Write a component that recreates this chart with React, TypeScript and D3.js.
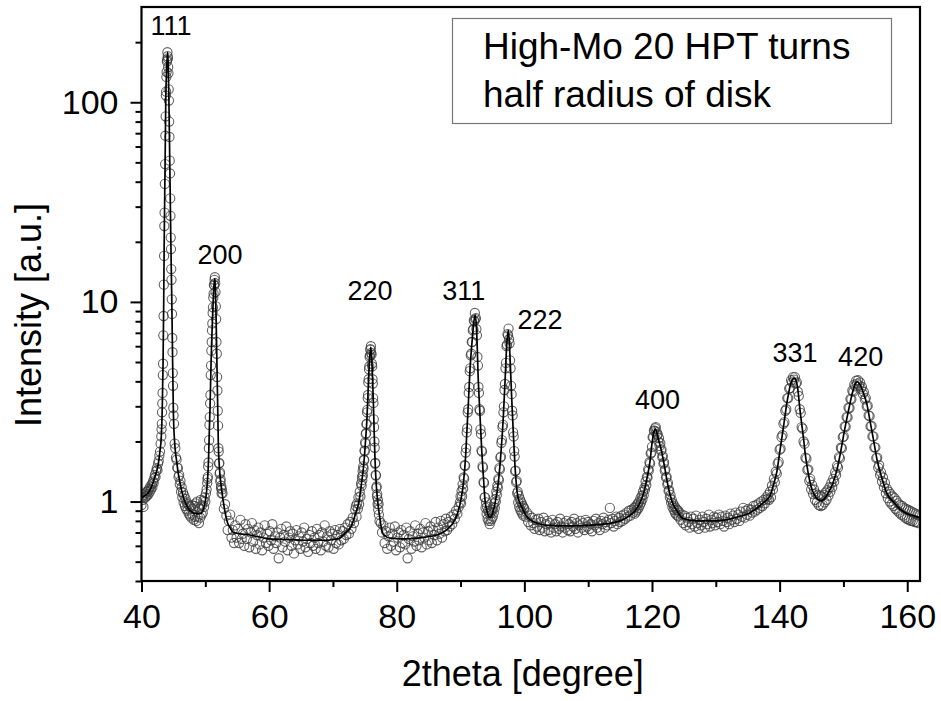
import React, { useEffect, useRef } from 'react';
import * as d3 from 'd3';

// fitted profile: [2theta, intensity]
const fitCurve: [number, number][] = [
  [40.0, 1.04], [40.5, 1.07], [41.0, 1.1], [41.5, 1.17], [42.0, 1.3], [42.4, 1.43], [42.64, 1.55],
  [42.9, 1.8], [43.1, 2.1], [43.25, 2.9], [43.38, 5], [43.48, 10], [43.57, 22], [43.7, 50],
  [43.8, 100], [43.95, 150], [44.08, 178], [44.2, 150], [44.3, 100], [44.45, 45], [44.6, 20],
  [44.75, 10], [44.9, 4.5], [45.0, 2.75], [45.25, 1.87], [45.5, 1.6], [45.77, 1.38], [46.2, 1.17],
  [46.55, 1.05], [47.1, 0.95], [47.6, 0.9], [48.1, 0.88], [48.6, 0.87], [49.2, 0.87], [49.6, 0.9],
  [50.0, 1.0], [50.3, 1.22], [50.5, 1.6], [50.63, 2.27], [50.74, 2.97], [50.9, 4.9], [51.0, 6.4],
  [51.2, 9.5], [51.35, 12.0], [51.52, 13.1], [51.62, 10.5], [51.7, 8.0], [51.78, 5.8], [51.94, 3.0],
  [52.04, 1.95], [52.2, 1.5], [52.57, 1.14], [53.0, 0.92], [53.5, 0.78], [53.87, 0.74], [54.4, 0.7],
  [55.4, 0.69], [57, 0.68], [60, 0.65], [63, 0.645], [66, 0.64], [69, 0.64], [71, 0.655], [72, 0.7],
  [72.5, 0.72], [73.0, 0.77], [73.5, 0.86], [74.1, 1.01], [74.5, 1.25], [74.8, 1.5], [75.1, 2.0],
  [75.3, 2.5], [75.45, 3.2], [75.6, 4.2], [75.75, 5.2], [75.93, 5.93], [76.08, 5.2], [76.2, 4.2],
  [76.33, 3.2], [76.45, 2.3], [76.6, 1.6], [76.8, 1.2], [77.0, 1.01], [77.3, 0.85], [77.65, 0.72],
  [78.0, 0.68], [79, 0.655], [81, 0.65], [84, 0.66], [86.8, 0.69], [88, 0.73], [88.8, 0.78],
  [89.4, 0.85], [90.0, 1.0], [90.44, 1.23], [90.8, 1.7], [90.97, 2.18], [91.2, 3.0], [91.5, 4.71],
  [91.8, 6.3], [92.0, 7.5], [92.27, 8.6], [92.5, 7.4], [92.8, 3.89], [93.0, 2.9], [93.32, 1.8],
  [93.6, 1.3], [93.84, 1.01], [94.2, 0.88], [94.6, 0.83], [95.0, 0.87], [95.4, 0.98], [95.9, 1.23],
  [96.3, 1.7], [96.7, 2.65], [97.0, 4.2], [97.25, 6.2], [97.5, 7.2], [97.75, 5.3], [98.03, 3.21],
  [98.3, 2.1], [98.54, 1.49], [99.0, 1.05], [99.6, 0.94], [100.0, 0.88], [100.5, 0.83], [102.5, 0.77],
  [104, 0.76], [107, 0.755], [110, 0.76], [113, 0.775], [115, 0.8], [116.5, 0.85], [117.35, 0.9],
  [118.0, 0.97], [118.65, 1.09], [119.2, 1.3], [119.7, 1.6], [120.0, 1.95], [120.2, 2.15],
  [120.35, 2.26], [120.5, 2.31], [120.65, 2.28], [120.8, 2.2], [121.0, 2.05], [121.3, 1.9],
  [121.8, 1.6], [122.3, 1.3], [122.8, 1.09], [123.3, 0.97], [123.9, 0.9], [124.5, 0.84], [125, 0.82],
  [127, 0.8], [130, 0.8], [133, 0.83], [135.4, 0.88], [136.5, 0.93], [137.5, 0.99], [138.0, 1.02],
  [138.5, 1.07], [139.0, 1.2], [139.6, 1.43], [140.0, 1.75], [140.6, 2.36], [141.2, 3.2],
  [141.8, 3.95], [142.3, 4.15], [142.8, 3.75], [143.2, 2.86], [143.8, 2.0], [144.0, 1.75],
  [144.3, 1.5], [144.9, 1.2], [145.5, 1.07], [146.1, 1.02], [146.6, 1.01], [147.2, 1.05],
  [147.8, 1.13], [148.4, 1.25], [149.0, 1.45], [149.5, 1.73], [150.2, 2.3], [150.8, 2.86],
  [151.4, 3.5], [151.9, 3.9], [152.2, 3.98], [152.6, 3.85], [153.2, 3.45], [153.7, 3.05],
  [154.2, 2.5], [154.7, 2.05], [155.3, 1.6], [156.0, 1.32], [156.8, 1.1], [157.8, 1.0],
  [158.8, 0.92], [160, 0.87], [161, 0.85], [162, 0.83],
];

// measured intensities, evenly stepped scans
const obsLow = [ // 40.0 .. 43.1, step 0.1
  0.96, 1.05, 1.02, 0.94, 1.08, 1.04, 1.1, 1.06, 1.12, 1.07, 1.13, 1.09, 1.16, 1.12, 1.19, 1.15,
  1.22, 1.18, 1.26, 1.24, 1.31, 1.36, 1.33, 1.42, 1.47, 1.44, 1.55, 1.6, 1.7, 1.78, 1.95, 2.12,
];
const obs111 = [ // 43.14 .. 45.02, step 0.04
  2.3, 2.45, 2.8, 3.1, 3.5, 4.3, 4.9, 6.8, 8.5, 12.2, 17, 24, 28, 39, 49, 68, 85, 108, 113, 134,
  142, 160, 163, 178, 170, 166, 150, 140, 116, 102, 80, 67, 51, 44, 33, 27, 21, 18.4, 14.6, 12.9,
  10.3, 8.7, 6.6, 5.6, 4.4, 3.8, 2.95, 2.7,
];
const obsValley1 = [ // 45.1 .. 50.3, step 0.1
  2.45, 1.95, 1.85, 1.66, 1.62, 1.48, 1.47, 1.33, 1.36, 1.22, 1.27, 1.12, 1.18, 1.05, 1.11, 0.99,
  1.07, 0.95, 1.03, 0.92, 0.99, 0.9, 0.97, 0.87, 0.95, 0.85, 0.94, 0.83, 0.96, 0.86, 0.92, 0.81,
  0.95, 0.84, 0.98, 0.8, 1.0, 0.84, 0.94, 0.78, 0.92, 0.83, 1.02, 0.86, 0.96, 0.88, 1.01, 0.94,
  1.05, 1.0, 1.1, 1.15, 1.24,
];
const obs200 = [ // 50.35 .. 52.60, step 0.05
  1.3, 1.33, 1.5, 1.57, 1.85, 2.03, 2.42, 2.65, 3.1, 3.42, 4.3, 4.8, 5.7, 6.3, 7.2, 7.8, 8.8, 9.4,
  10.5, 11.0, 12.2, 12.1, 12.9, 13.3, 12.4, 11.2, 9.5, 8.2, 6.3, 5.5, 4.2, 3.6, 2.85, 2.4, 1.85,
  1.78, 1.55, 1.56, 1.38, 1.4, 1.26, 1.29, 1.17, 1.2, 1.1, 1.15,
];
const obsBg1 = [ // 52.7 .. 73.5, step 0.2
  1.1, 0.92, 0.97, 0.85, 0.72, 0.8, 0.86, 0.66, 0.72, 0.62, 0.76, 0.66,
  0.73, 0.62, 0.81, 0.65, 0.69, 0.6, 0.77, 0.65, 0.73, 0.59,
  0.7, 0.78, 0.63, 0.72, 0.58, 0.68, 0.74, 0.61, 0.7, 0.57,
  0.66, 0.76, 0.62, 0.69, 0.6, 0.71, 0.64, 0.77, 0.58, 0.67,
  0.62, 0.7, 0.52, 0.66, 0.73, 0.59, 0.68, 0.63, 0.75, 0.57,
  0.66, 0.71, 0.6, 0.69, 0.55, 0.64, 0.72, 0.61, 0.67, 0.58,
  0.7, 0.63, 0.74, 0.59, 0.65, 0.56, 0.68, 0.62, 0.71, 0.6,
  0.66, 0.58, 0.73, 0.62, 0.68, 0.57, 0.7, 0.63, 0.76, 0.6,
  0.67, 0.59, 0.71, 0.64, 0.69, 0.58, 0.72, 0.62, 0.68, 0.61,
  0.73, 0.64, 0.71, 0.65, 0.74, 0.68, 0.77, 0.69, 0.79, 0.73,
  0.83, 0.78, 0.91,
];
const obs220Base = [ // 73.6 .. 74.5, step 0.1
  0.95, 0.84, 0.98, 0.92, 1.05, 0.97, 1.12, 1.06, 1.23, 1.2,
];
const obs220 = [ // 74.55 .. 77.20, step 0.05
  1.33, 1.28, 1.42, 1.35, 1.5, 1.46, 1.62, 1.61, 1.8, 1.79, 1.98, 1.95, 2.18, 2.2, 2.44, 2.45,
  2.8, 2.88, 3.3, 3.42, 3.95, 4.1, 4.6, 4.75, 5.3, 5.4, 5.8, 5.75, 6.0, 5.55, 5.45, 4.9, 4.75,
  4.1, 3.9, 3.3, 3.12, 2.58, 2.36, 2.0, 1.86, 1.55, 1.56, 1.36, 1.35, 1.17, 1.19, 1.06, 1.09,
  0.97, 1.02, 0.91, 0.97, 0.86,
];
const obsBg2 = [ // 77.3 .. 89.9, step 0.2
  0.8, 0.78, 0.7, 0.76, 0.62, 0.71, 0.58, 0.67, 0.74, 0.6,
  0.69, 0.63, 0.75, 0.57, 0.66, 0.7, 0.59, 0.72, 0.62, 0.68,
  0.61, 0.74, 0.52, 0.65, 0.71, 0.58, 0.67, 0.63, 0.76, 0.6,
  0.69, 0.64, 0.73, 0.59, 0.7, 0.66, 0.78, 0.61, 0.71, 0.64,
  0.75, 0.62, 0.72, 0.68, 0.79, 0.64, 0.74, 0.69, 0.8, 0.66,
  0.77, 0.71, 0.82, 0.72, 0.79, 0.75, 0.84, 0.77, 0.86, 0.82,
  0.9, 0.87, 0.94, 0.99,
];
const obs311_222 = [ // 90.00 .. 99.92, step 0.08
  1.06, 0.98, 1.13, 1.06, 1.22, 1.16, 1.32, 1.3, 1.52, 1.51, 1.76, 1.85, 2.22, 2.33, 2.8, 2.9,
  3.5, 3.75, 4.5, 4.65, 5.4, 5.5, 6.3, 6.3, 7.2, 7.3, 8.1, 8.0, 8.8, 8.2, 8.3, 7.3, 6.8, 5.3,
  4.8, 3.75, 3.5, 2.9, 2.85, 2.3, 2.18, 1.8, 1.78, 1.5, 1.48, 1.25, 1.24, 1.05, 1.05, 0.93,
  0.99, 0.87, 0.94, 0.82, 0.9, 0.8, 0.88, 0.77, 0.87, 0.8, 0.89, 0.82, 0.91, 0.84, 0.94, 0.88,
  0.98, 0.93, 1.03, 1.0, 1.12, 1.08, 1.2, 1.17, 1.3, 1.28, 1.47, 1.45, 1.66, 1.68, 1.97, 2.03,
  2.36, 2.42, 2.8, 3.0, 3.62, 3.88, 4.65, 4.95, 6.0, 6.1, 6.9, 6.8, 7.35, 6.5, 6.2, 5.1, 4.65,
  3.8, 3.45, 2.85, 2.7, 2.22, 2.12, 1.79, 1.68, 1.42, 1.43, 1.25, 1.27, 1.1, 1.12, 0.99, 1.07,
  0.94, 1.03, 0.91, 1.0, 0.89, 0.98, 0.87, 0.95, 0.85, 0.93,
];
const obsBg3 = [ // 100.0 .. 117.2, step 0.2
  0.92, 0.84, 0.88, 0.79, 0.85, 0.76, 0.83, 0.78, 0.73, 0.81, 0.75, 0.82, 0.72, 0.79, 0.74, 0.83,
  0.71, 0.77, 0.8, 0.72, 0.78, 0.7, 0.81, 0.74, 0.77, 0.71, 0.79, 0.73, 0.82, 0.75, 0.7, 0.78,
  0.74, 0.8, 0.72, 0.77, 0.71, 0.79, 0.75, 0.82, 0.73, 0.78, 0.7, 0.76, 0.8, 0.74, 0.78, 0.72,
  0.81, 0.75, 0.79, 0.73, 0.77, 0.71, 0.8, 0.76, 0.82, 0.74, 0.78, 0.72, 0.8, 0.77, 0.83, 0.74,
  0.79, 0.76, 0.81, 0.93, 0.78, 0.82, 0.75, 0.8, 0.84, 0.77, 0.83, 0.79, 0.85, 0.8, 0.86, 0.82,
  0.88, 0.84, 0.9, 0.85, 0.91, 0.88, 0.93,
];
const obs400 = [ // 117.3 .. 124.2, step 0.1
  0.87, 0.94, 0.89, 0.96, 0.91, 0.98, 0.93, 1.0, 0.96, 1.04, 0.99, 1.07, 1.03, 1.12, 1.08, 1.17,
  1.15, 1.26, 1.21, 1.33, 1.32, 1.45, 1.43, 1.57, 1.55, 1.74, 1.76, 1.88, 2.1, 2.1, 2.27, 2.25,
  2.33, 2.36, 2.24, 2.16, 2.17, 2.0, 2.08, 1.9, 1.96, 1.8, 1.82, 1.67, 1.69, 1.55, 1.57, 1.43,
  1.45, 1.32, 1.33, 1.22, 1.24, 1.13, 1.14, 1.05, 1.08, 0.99, 1.02, 0.94, 0.98, 0.91, 0.95, 0.88,
  0.93, 0.86, 0.91, 0.85, 0.9, 0.84,
];
const obsBg4 = [ // 124.3 .. 138.1, step 0.2
  0.88, 0.81, 0.86, 0.78, 0.85, 0.76, 0.83, 0.79, 0.74, 0.84, 0.77, 0.82, 0.75, 0.85, 0.78, 0.73,
  0.81, 0.76, 0.84, 0.79, 0.74, 0.82, 0.77, 0.86, 0.75, 0.81, 0.78, 0.84, 0.76, 0.83, 0.79, 0.86,
  0.77, 0.84, 0.8, 0.75, 0.85, 0.79, 0.83, 0.77, 0.87, 0.81, 0.85, 0.79, 0.88, 0.82, 0.86, 0.8,
  0.89, 0.84, 0.93, 0.83, 0.9, 0.86, 0.92, 0.85, 0.91, 0.88, 0.95, 0.89, 0.96, 0.91, 0.98, 0.93,
  1.0, 0.95, 1.02, 0.98, 1.05, 1.03,
];
const obsHigh = [ // 138.2 .. 161.9, step 0.15
  1.08, 1.02, 1.12, 1.05, 1.2, 1.15, 1.3, 1.25, 1.41, 1.38, 1.55, 1.58, 1.82, 1.84, 2.1, 2.15,
  2.45, 2.5, 2.85, 2.9, 3.3, 3.3, 3.68, 3.7, 4.05, 3.95, 4.2, 4.08, 4.2, 3.9, 3.95, 3.55, 3.38,
  2.9, 2.78, 2.36, 2.32, 2.0, 1.95, 1.66, 1.64, 1.44, 1.45, 1.27, 1.3, 1.15, 1.21, 1.09, 1.15,
  1.02, 1.1, 0.99, 1.08, 0.96, 1.07, 0.95, 1.06, 0.96, 1.08, 0.99, 1.11, 1.02, 1.14, 1.07, 1.18,
  1.12, 1.24, 1.18, 1.3, 1.26, 1.4, 1.36, 1.51, 1.48, 1.67, 1.65, 1.86, 1.85, 2.1, 2.12, 2.38,
  2.37, 2.65, 2.64, 2.95, 2.94, 3.27, 3.25, 3.6, 3.55, 3.85, 3.78, 4.03, 3.9, 4.05, 3.82, 3.95,
  3.68, 3.75, 3.46, 3.54, 3.25, 3.3, 3.0, 3.02, 2.7, 2.68, 2.38, 2.39, 2.12, 2.12, 1.87, 1.87,
  1.65, 1.66, 1.48, 1.52, 1.36, 1.4, 1.26, 1.32, 1.18, 1.24, 1.1, 1.16, 1.04, 1.12, 1.0, 1.09,
  0.97, 1.06, 0.95, 1.04, 0.92, 1.01, 0.9, 0.98, 0.88, 0.96, 0.86, 0.95, 0.85, 0.93, 0.83, 0.92,
  0.82, 0.91, 0.81, 0.9, 0.8, 0.89, 0.8, 0.88, 0.79, 0.87, 0.79, 0.86, 0.78, 0.85,
];

const obsSegments = [
  { start: 40.0, step: 0.1, values: obsLow },
  { start: 43.14, step: 0.04, values: obs111 },
  { start: 45.1, step: 0.1, values: obsValley1 },
  { start: 50.35, step: 0.05, values: obs200 },
  { start: 52.7, step: 0.2, values: obsBg1 },
  { start: 73.6, step: 0.1, values: obs220Base },
  { start: 74.55, step: 0.05, values: obs220 },
  { start: 77.3, step: 0.2, values: obsBg2 },
  { start: 90.0, step: 0.08, values: obs311_222 },
  { start: 100.0, step: 0.2, values: obsBg3 },
  { start: 117.3, step: 0.1, values: obs400 },
  { start: 124.3, step: 0.2, values: obsBg4 },
  { start: 138.2, step: 0.15, values: obsHigh },
];

// reflection labels: text, 2theta of centre, intensity at baseline
const peakLabels = [
  { text: '111', theta: 44.62, at: 217 },
  { text: '200', theta: 52.3, at: 15.4 },
  { text: '220', theta: 75.82, at: 10.2 },
  { text: '311', theta: 90.52, at: 10.2 },
  { text: '222', theta: 102.46, at: 7.28 },
  { text: '400', theta: 120.88, at: 2.91 },
  { text: '331', theta: 142.43, at: 4.98 },
  { text: '420', theta: 152.7, at: 4.8 },
];

const xMajor = [40, 60, 80, 100, 120, 140, 160];
const xMinor = [50, 70, 90, 110, 130, 150];
const yMajor = [1, 10, 100];
const yMinor = [0.4, 0.5, 0.6, 0.7, 0.8, 0.9, 2, 3, 4, 5, 6, 7, 8, 9, 20, 30, 40, 50, 60, 70, 80, 90, 200];
const legendLines = ['High-Mo 20 HPT turns', 'half radius of disk'];

const FONT = '"Liberation Sans", Arial, Helvetica, sans-serif';

const App = () => {
  const ref = useRef<SVGSVGElement | null>(null);

  useEffect(() => {
    if (!ref.current) return;
    const svg = d3.select(ref.current);
    svg.selectAll('*').remove();

    const left = 141.5, right = 920, top = 7, bottom = 581;

    const x = d3.scaleLinear().domain([40, 162]).range([left, right]);
    const y = d3.scaleLog().domain([0.4, 300]).range([bottom, top]);

    svg.append('defs').append('clipPath').attr('id', 'plot-clip')
      .append('rect')
      .attr('x', left).attr('y', top)
      .attr('width', right - left).attr('height', bottom - top);

    const points: [number, number][] = [];
    obsSegments.forEach(s => {
      s.values.forEach((v, i) => points.push([s.start + i * s.step, v]));
    });

    const plot = svg.append('g').attr('clip-path', 'url(#plot-clip)');

    plot.selectAll('circle')
      .data(points)
      .enter()
      .append('circle')
      .attr('cx', d => x(d[0]))
      .attr('cy', d => y(d[1]))
      .attr('r', 4.6)
      .attr('fill', 'none')
      .attr('stroke', '#3c3c3c')
      .attr('stroke-opacity', 0.8)
      .attr('stroke-width', 1.1);

    const line = d3.line<[number, number]>()
      .x(d => x(d[0]))
      .y(d => y(d[1]))
      .curve(d3.curveMonotoneX);

    plot.append('path')
      .datum(fitCurve)
      .attr('fill', 'none')
      .attr('stroke', '#000')
      .attr('stroke-width', 1.7)
      .attr('d', line);

    // axes
    const styleAxis = (g: any) => {
      g.select('.domain').remove();
      g.selectAll('line').attr('stroke', '#000').attr('stroke-width', 2);
      g.selectAll('text')
        .attr('fill', '#000')
        .attr('font-size', 34)
        .attr('font-family', FONT);
    };

    svg.append('g')
      .attr('transform', `translate(0,${bottom})`)
      .call(d3.axisBottom(x).tickValues(xMinor).tickSize(6).tickFormat(() => ''))
      .call(styleAxis);
    svg.append('g')
      .attr('transform', `translate(0,${bottom})`)
      .call(d3.axisBottom(x).tickValues(xMajor).tickSize(11).tickPadding(12).tickFormat(d3.format('d')))
      .call(styleAxis);

    svg.append('g')
      .attr('transform', `translate(${left},0)`)
      .call(d3.axisLeft(y).tickValues(yMinor).tickSize(6).tickFormat(() => ''))
      .call(styleAxis);
    svg.append('g')
      .attr('transform', `translate(${left},0)`)
      .call(d3.axisLeft(y).tickValues(yMajor).tickSize(11).tickPadding(12).tickFormat(d3.format('d')))
      .call(styleAxis);

    svg.append('rect')
      .attr('x', left).attr('y', top)
      .attr('width', right - left).attr('height', bottom - top)
      .attr('fill', 'none')
      .attr('stroke', '#000')
      .attr('stroke-width', 2.2);

    // titles
    svg.append('text')
      .attr('x', (left + right) / 2 - 8)
      .attr('y', 686)
      .attr('text-anchor', 'middle')
      .attr('font-family', FONT)
      .attr('font-size', 36)
      .text('2theta [degree]');

    svg.append('text')
      .attr('transform', `translate(41,315) rotate(-90)`)
      .attr('text-anchor', 'middle')
      .attr('font-family', FONT)
      .attr('font-size', 36)
      .text('Intensity [a.u.]');

    // peak labels
    svg.append('g')
      .selectAll('text')
      .data(peakLabels)
      .enter()
      .append('text')
      .attr('x', d => x(d.theta))
      .attr('y', d => y(d.at))
      .attr('text-anchor', 'middle')
      .attr('font-family', FONT)
      .attr('font-size', 27)
      .text(d => d.text);

    // legend box
    const lg = svg.append('g');
    lg.append('rect')
      .attr('x', 452.5).attr('y', 18.5)
      .attr('width', 439).attr('height', 105)
      .attr('fill', '#fff')
      .attr('stroke', '#777')
      .attr('stroke-width', 1.2);
    lg.selectAll('text.leg')
      .data(legendLines)
      .enter()
      .append('text')
      .attr('class', 'leg')
      .attr('x', 483)
      .attr('y', (d, i) => 59 + i * 48)
      .attr('font-family', FONT)
      .attr('font-size', 37)
      .text(d => d);
  }, []);

  return (
    <svg
      ref={ref}
      width={941}
      height={701}
      style={{ position: 'absolute', left: 0, top: 0, background: '#fff' }}
    />
  );
};

export default App;
